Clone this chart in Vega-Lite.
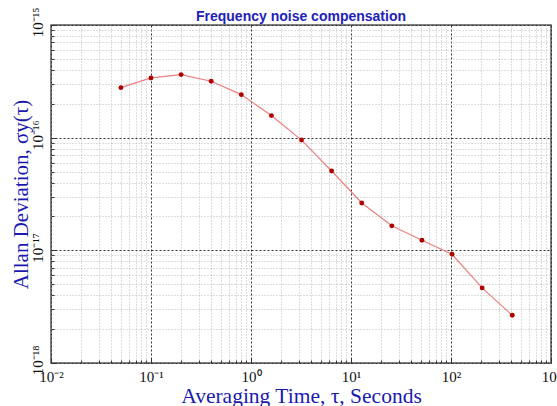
{
  "$schema": "https://vega.github.io/schema/vega-lite/v6.json",
  "autosize": "none",
  "width": 500,
  "height": 338,
  "padding": {"left": 51, "top": 25, "right": 6, "bottom": 43},
  "background": "white",
  "config": {
    "view": {"stroke": "#555", "strokeWidth": 1.5},
    "axis": {"domain": false}
  },
  "title": {
    "text": "Frequency noise compensation",
    "color": "#2222b8",
    "font": "Liberation Sans",
    "fontSize": 14,
    "fontWeight": "bold",
    "anchor": "middle",
    "frame": "group",
    "offset": 5,
    "dy": 22
  },
  "data": {
    "values": [
      {"tau": 0.05, "adev": 2.78e-16},
      {"tau": 0.1, "adev": 3.39e-16},
      {"tau": 0.2, "adev": 3.63e-16},
      {"tau": 0.4, "adev": 3.17e-16},
      {"tau": 0.8, "adev": 2.41e-16},
      {"tau": 1.6, "adev": 1.57e-16},
      {"tau": 3.2, "adev": 9.52e-17},
      {"tau": 6.4, "adev": 5.06e-17},
      {"tau": 12.8, "adev": 2.63e-17},
      {"tau": 25.6, "adev": 1.65e-17},
      {"tau": 51.2, "adev": 1.23e-17},
      {"tau": 102.4, "adev": 9.23e-18},
      {"tau": 204.8, "adev": 4.64e-18},
      {"tau": 409.6, "adev": 2.65e-18}
    ]
  },
  "encoding": {
    "x": {
      "field": "tau",
      "type": "quantitative",
      "scale": {"type": "log", "domain": [0.01, 1000], "nice": false},
      "axis": {
        "title": "Averaging Time, τ, Seconds",
        "titleFont": "Liberation Serif",
        "titleFontSize": 21.5,
        "titleFontWeight": "normal",
        "titleColor": "#1a1ab0",
        "titlePadding": -1,
        "values": [0.01,0.02,0.03,0.04,0.05,0.06,0.07,0.08,0.09,0.1,0.2,0.3,0.4,0.5,0.6,0.7,0.8,0.9,1,2,3,4,5,6,7,8,9,10,20,30,40,50,60,70,80,90,100,200,300,400,500,600,700,800,900,1000],
        "labelExpr": "abs(log(datum.value)/LN10+2)<0.001 ? '10⁻²' : abs(log(datum.value)/LN10+1)<0.001 ? '10⁻¹' : abs(log(datum.value)/LN10)<0.001 ? '10⁰' : abs(log(datum.value)/LN10-1)<0.001 ? '10¹' : abs(log(datum.value)/LN10-2)<0.001 ? '10²' : abs(log(datum.value)/LN10-3)<0.001 ? '10³' : ''",
        "labelFont": "Liberation Serif",
        "labelFontSize": 15,
        "labelColor": "#111",
        "labelPadding": 11,
        "labelFlush": false,
        "labelOverlap": false,
        "tickColor": "#333",
        "tickSize": {"condition": {"test": "abs(log(datum.value)/LN10 - round(log(datum.value)/LN10)) < 0.001", "value": -5}, "value": -3},
        "grid": true,
        "gridColor": {"condition": {"test": "abs(log(datum.value)/LN10 - round(log(datum.value)/LN10)) < 0.001", "value": "#333"}, "value": "#bbb"},
        "gridDash": {"condition": {"test": "abs(log(datum.value)/LN10 - round(log(datum.value)/LN10)) < 0.001", "value": [2, 2]}, "value": [1, 2]}
      }
    },
    "y": {
      "field": "adev",
      "type": "quantitative",
      "scale": {"type": "log", "domain": [1e-18, 1e-15], "nice": false},
      "axis": {
        "title": "Allan Deviation, σy(τ)",
        "titleFont": "Liberation Serif",
        "titleFontSize": 21,
        "titleFontWeight": "normal",
        "titleColor": "#1a1ab0",
        "titlePadding": -3,
        "values": [1e-18,2e-18,3e-18,4e-18,5e-18,6e-18,7e-18,8e-18,9e-18,1e-17,2e-17,3e-17,4e-17,5e-17,6e-17,7e-17,8e-17,9e-17,1e-16,2e-16,3e-16,4e-16,5e-16,6e-16,7e-16,8e-16,9e-16,1e-15],
        "labelExpr": "abs(log(datum.value)/LN10+18)<0.001 ? '10⁻¹⁸' : abs(log(datum.value)/LN10+17)<0.001 ? '10⁻¹⁷' : abs(log(datum.value)/LN10+16)<0.001 ? '10⁻¹⁶' : abs(log(datum.value)/LN10+15)<0.001 ? '10⁻¹⁵' : ''",
        "labelFont": "Liberation Serif",
        "labelFontSize": 15,
        "labelColor": "#111",
        "labelAngle": -90,
        "labelAlign": "center",
        "labelBaseline": "bottom",
        "labelPadding": 11,
        "labelOffset": -3,
        "labelFlush": false,
        "labelOverlap": false,
        "tickColor": "#333",
        "tickSize": {"condition": {"test": "abs(log(datum.value)/LN10 - round(log(datum.value)/LN10)) < 0.001", "value": -5}, "value": -3},
        "grid": true,
        "gridColor": {"condition": {"test": "abs(log(datum.value)/LN10 - round(log(datum.value)/LN10)) < 0.001", "value": "#333"}, "value": "#bbb"},
        "gridDash": {"condition": {"test": "abs(log(datum.value)/LN10 - round(log(datum.value)/LN10)) < 0.001", "value": [2, 2]}, "value": [1, 2]}
      }
    }
  },
  "layer": [
    {"mark": {"type": "line", "color": "#e98080", "strokeWidth": 1.2}},
    {"mark": {"type": "circle", "color": "#b00000", "size": 24, "opacity": 1}}
  ]
}
